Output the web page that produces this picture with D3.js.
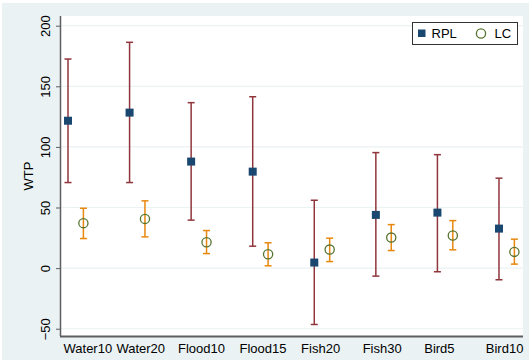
<!DOCTYPE html>
<html>
<head>
<meta charset="utf-8">
<script src="https://cdn.jsdelivr.net/npm/d3@7"></script>
<style>
  html, body { margin: 0; padding: 0; background: #ffffff; }
  svg { display: block; font-family: "Liberation Sans", Arial, sans-serif; }
</style>
</head>
<body>
<svg id="chart" width="529" height="360"></svg>
<script>
// Willingness-to-pay estimates with confidence intervals, two models
const categories = ["Water10", "Water20", "Flood10", "Flood15", "Fish20", "Fish30", "Bird5", "Bird10"];

const rplMean  = [121.6, 128.3, 87.9, 79.6, 4.6, 43.9, 45.8, 32.6];
const rplLower = [70.6, 70.6, 39.6, 18.1, -46.5, -6.6, -3.0, -9.6];
const rplUpper = [172.5, 186.3, 136.5, 141.4, 56.0, 95.3, 93.6, 74.2];

const lcMean  = [37.1, 40.6, 21.4, 11.5, 15.3, 25.2, 26.9, 13.4];
const lcLower = [24.4, 25.8, 12.0, 1.9, 5.4, 14.5, 15.1, 3.3];
const lcUpper = [49.4, 55.5, 31.0, 20.9, 24.7, 35.9, 39.2, 23.9];

const yTicks = [-50, 0, 50, 100, 150, 200];
const legendLabels = ["RPL", "LC"];

const colors = {
  graphBg: "#eaf2f3",
  plotBg: "#ffffff",
  grid: "#eaf2f3",
  axis: "#5f5f5f",
  rpl: "#1a476f",
  rplBar: "#90353b",
  lc: "#55752f",
  lcBar: "#e8870e"
};

const svg = d3.select("#chart");
const plot = { left: 60, right: 523, top: 16, bottom: 336 };

// graph region and plot region
svg.append("rect").attr("x", 2).attr("y", 3).attr("width", 527).attr("height", 357).attr("fill", colors.graphBg);
svg.append("rect").attr("x", plot.left).attr("y", plot.top)
  .attr("width", plot.right - plot.left).attr("height", plot.bottom - plot.top)
  .attr("fill", colors.plotBg);

const x = d3.scaleLinear().domain([-0.13, 7.39]).range([plot.left, plot.right]);
const y = d3.scaleLinear().domain([-56, 208]).range([plot.bottom, plot.top]);
const lcShift = 0.25;

// horizontal grid lines
svg.append("g").selectAll("line").data(yTicks).join("line")
  .attr("x1", plot.left).attr("x2", plot.right)
  .attr("y1", d => y(d)).attr("y2", d => y(d))
  .attr("stroke", colors.grid).attr("stroke-width", 1.2);

// y axis
const yAxis = svg.append("g").attr("transform", `translate(${plot.left},0)`)
  .call(d3.axisLeft(y).tickValues(yTicks).tickSize(4).tickPadding(0));
yAxis.select(".domain").attr("d", `M0.5,${plot.top}V${plot.bottom}`)
  .attr("stroke", colors.axis).attr("stroke-width", 1.5);
yAxis.selectAll(".tick line").attr("stroke", colors.axis).attr("stroke-width", 1);
yAxis.selectAll(".tick text")
  .attr("x", null).attr("dy", null)
  .attr("transform", "translate(-10,0) rotate(-90)")
  .attr("text-anchor", "middle")
  .attr("font-size", 13).attr("fill", "#000");

// x axis (category labels, left-aligned beside each group)
const xAxis = svg.append("g").attr("transform", `translate(0,${plot.bottom})`)
  .call(d3.axisBottom(x).tickValues(d3.range(categories.length))
    .tickFormat(i => categories[i]).tickSize(0).tickPadding(0));
xAxis.select(".domain").attr("d", `M${plot.left},0.5H${plot.right}`)
  .attr("stroke", colors.axis).attr("stroke-width", 2);
xAxis.selectAll(".tick").each(function (i) {
  const px = x(i);
  const start = Math.max(px - 13.7, plot.left + 3);
  d3.select(this).select("text")
    .attr("text-anchor", "start")
    .attr("x", start - px)
    .attr("y", 16.5).attr("dy", null)
    .attr("font-size", 13).attr("fill", "#000");
});

// y axis title
svg.append("text")
  .attr("transform", `translate(33,${(plot.top + plot.bottom) / 2}) rotate(-90)`)
  .attr("text-anchor", "middle").attr("font-size", 13).attr("fill", "#000")
  .text("WTP");

// interval drawing helper
function drawIntervals(g, lower, upper, shift, color) {
  const cap = 3.5;
  const items = g.selectAll("g").data(categories.map((c, i) => i)).join("g");
  items.append("line")
    .attr("x1", i => x(i + shift)).attr("x2", i => x(i + shift))
    .attr("y1", i => y(lower[i])).attr("y2", i => y(upper[i]))
    .attr("stroke", color).attr("stroke-width", 1.5);
  items.append("line")
    .attr("x1", i => x(i + shift) - cap).attr("x2", i => x(i + shift) + cap)
    .attr("y1", i => y(lower[i])).attr("y2", i => y(lower[i]))
    .attr("stroke", color).attr("stroke-width", 1.5);
  items.append("line")
    .attr("x1", i => x(i + shift) - cap).attr("x2", i => x(i + shift) + cap)
    .attr("y1", i => y(upper[i])).attr("y2", i => y(upper[i]))
    .attr("stroke", color).attr("stroke-width", 1.5);
}

drawIntervals(svg.append("g"), rplLower, rplUpper, 0, colors.rplBar);
drawIntervals(svg.append("g"), lcLower, lcUpper, lcShift, colors.lcBar);

// RPL point estimates: filled squares
svg.append("g").selectAll("rect").data(rplMean).join("rect")
  .attr("x", (d, i) => x(i) - 4).attr("y", d => y(d) - 4)
  .attr("width", 8).attr("height", 8)
  .attr("fill", colors.rpl);

// LC point estimates: hollow circles
svg.append("g").selectAll("circle").data(lcMean).join("circle")
  .attr("cx", (d, i) => x(i + lcShift)).attr("cy", d => y(d))
  .attr("r", 4.6)
  .attr("fill", "none").attr("stroke", colors.lc).attr("stroke-width", 1.3);

// legend
const legend = svg.append("g");
legend.append("rect").attr("x", 412.5).attr("y", 22.5).attr("width", 105).attr("height", 22)
  .attr("fill", "#fff").attr("stroke", "#333").attr("stroke-width", 1);
legend.append("rect").attr("x", 418).attr("y", 29.5).attr("width", 7.5).attr("height", 7.5)
  .attr("fill", colors.rpl);
legend.append("text").attr("x", 431.5).attr("y", 38).attr("font-size", 13).attr("fill", "#000")
  .text(legendLabels[0]);
legend.append("circle").attr("cx", 481).attr("cy", 33.5).attr("r", 4.6)
  .attr("fill", "none").attr("stroke", colors.lc).attr("stroke-width", 1.3);
legend.append("text").attr("x", 494.5).attr("y", 38).attr("font-size", 13).attr("fill", "#000")
  .text(legendLabels[1]);
</script>
</body>
</html>
